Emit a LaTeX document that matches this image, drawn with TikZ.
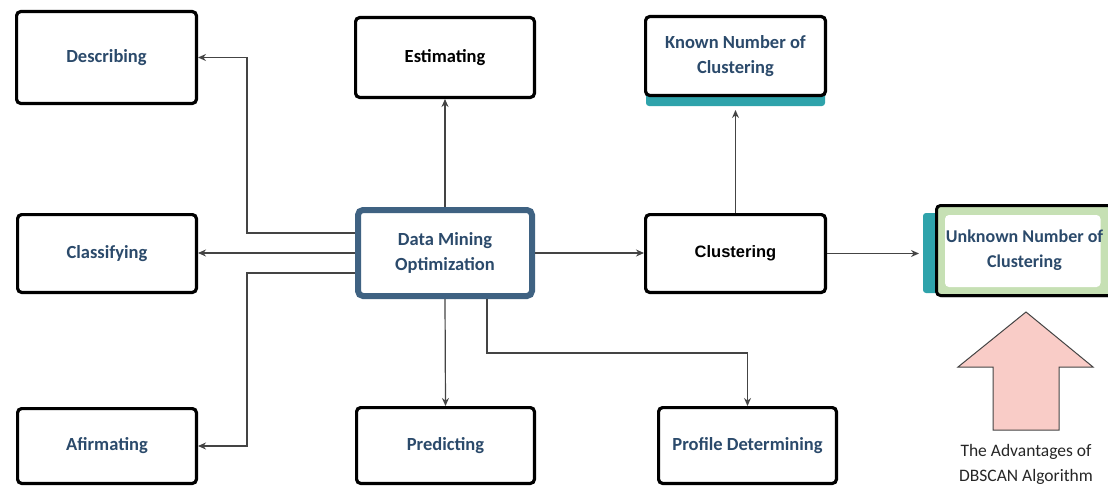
\documentclass[tikz,border=0pt]{standalone}
\usepackage{fontspec}
\setmainfont{Carlito}
\newfontfamily\arialfont{Liberation Sans}
\usetikzlibrary{arrows.meta,calc,shadows}

\definecolor{labelblue}{HTML}{2B4A6B}
\definecolor{hubblue}{HTML}{3F6282}
\definecolor{barteal}{HTML}{2FA3AB}
\definecolor{softgreen}{HTML}{C6E0B4}
\definecolor{arrowpink}{HTML}{F9CCC7}
\definecolor{linegray}{HTML}{444444}

\tikzset{
  card/.style={draw=black, line width=3.2pt, rounded corners=4pt, fill=white,
    inner sep=0pt, align=center, text=labelblue,
    font=\bfseries\fontsize{18.5}{25}\selectfont},
  conn/.style={draw=linegray, line width=1.2pt,
    -{Stealth[length=8pt,width=7pt]}},
}

\begin{document}
\begin{tikzpicture}[x=1pt,y=-1pt]
\useasboundingbox (0,0) rectangle (1108,487);

% left column
\node[card, minimum width=179.8pt, minimum height=91.8pt] (desc) at (106.5,57.5) {Describing};
\node[card, minimum width=178.8pt, minimum height=77.8pt] (cls)  at (107,253.5) {Classifying};
\node[card, minimum width=178.8pt, minimum height=74.8pt] (afi)  at (107,446) {Afirmating};

% middle column
\node[card, text=black, minimum width=178.8pt, minimum height=79.8pt] (est) at (445,57.5) {Estimating};
\node[card, draw=hubblue, line width=6pt, rounded corners=5pt,
      minimum width=174pt, minimum height=86pt] (dmo) at (445,253) {Data Mining\\Optimization};
\node[card, minimum width=177.8pt, minimum height=75.8pt] (pred) at (445.5,445.5) {Predicting};

% clustering column
\fill[barteal, rounded corners=3pt] (646,90) rectangle (825,106);
\node[card, minimum width=179.8pt, minimum height=78.8pt] (known) at (735.5,56) {Known Number of\\Clustering};
\node[card, text=black, font=\arialfont\bfseries\fontsize{16.5}{20}\selectfont,
      minimum width=179.8pt, minimum height=77.8pt] (clu) at (735.5,253.5) {Clustering};
\node[card, minimum width=177.8pt, minimum height=75.8pt] (prof) at (747.5,445.5) {Profile Determining};

% unknown number of clusters
\fill[barteal, rounded corners=3pt] (923,213) rectangle (950,293);
\node[card, fill=softgreen, line width=3pt, font=\bfseries\fontsize{18}{25}\selectfont,
      drop shadow={opacity=0.35, shadow xshift=1pt, shadow yshift=-2pt},
      minimum width=176pt, minimum height=90pt,
      path picture={\fill[white]
        ([shift={(8.5pt,-9.5pt)}]path picture bounding box.north west) rectangle
        ([shift={(-12pt,8.5pt)}]path picture bounding box.south east);}]
      (unk) at (1024.5,250.5) {Unknown Number of\\Clustering};

% connectors out of the hub
\draw[conn] ([yshift=20pt]dmo.west) -| ($(desc.east)+(49,0)$) -- (desc.east);
\draw[conn] (dmo.west) -- (dmo.west -| cls.east);
\draw[conn] ([yshift=-20pt]dmo.west) -| ($(afi.east)+(49,0)$) -- (afi.east);
\draw[conn] (dmo.north) -- (est.south);
\draw[conn] (dmo.south) -- (pred.north);
\draw[conn] ([xshift=42pt]dmo.south) |- ($(prof.north)+(0,-53)$) -- (prof.north);
\draw[conn] (dmo.east) -- (dmo.east -| clu.west);
\draw[conn] (clu.north) -- ([yshift=-13pt]known.south);
\draw[conn] (clu.east) -- ([xshift=-16pt]clu.east -| unk.west);

% DBSCAN advantage arrow
\draw[fill=arrowpink, draw=linegray, line width=1pt, line join=miter]
  (1026,312) -- (1093,367) -- (1059,367) -- (1059,430) -- (993,430)
  -- (993,367) -- (958,367) -- cycle;
\node[align=center, text=black!85, font=\fontsize{17.5}{24.5}\selectfont] (adv)
  at (1026,464.5) {The Advantages of\\DBSCAN Algorithm};
\end{tikzpicture}
\end{document}
